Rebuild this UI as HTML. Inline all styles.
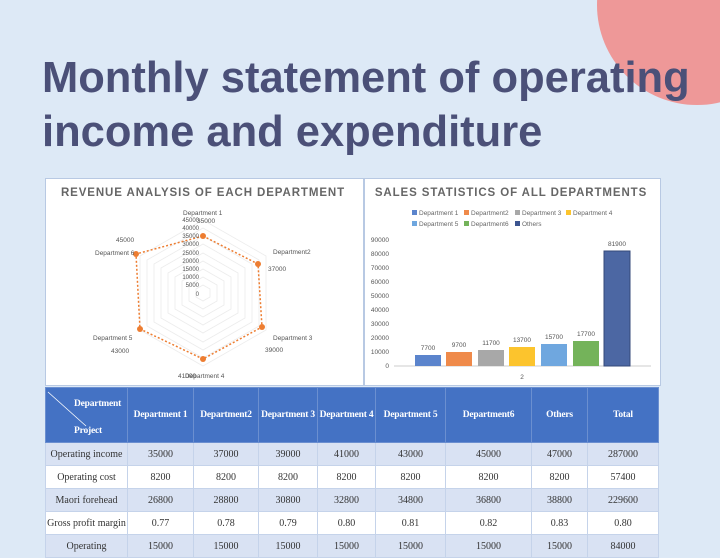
<!DOCTYPE html>
<html><head><meta charset="utf-8"><style>
body{margin:0;width:720px;height:540px;overflow:hidden;background:#dde9f6;font-family:"Liberation Sans",sans-serif;position:relative}
.circ{position:absolute;left:597px;top:-95px;width:200px;height:200px;border-radius:50%;background:#ee9898}
h1{position:absolute;left:42px;top:51px;margin:0;font-size:43.5px;line-height:54px;color:#4b5078;font-weight:bold;white-space:nowrap}
.panel{position:absolute;background:#fff;border:1px solid #b8c9e3}
table{position:absolute;left:45px;top:387px;width:613px;border-collapse:collapse;font-family:"Liberation Serif",serif;font-size:10px;color:#333;table-layout:fixed}
td{text-align:center;border:1px solid #c5d3ea;height:22px;padding:0;white-space:nowrap;overflow:hidden}
tr.h td{background:#4472c4;color:#fff;font-weight:bold;height:54px;border-color:#6b8fd0;font-size:9.5px;letter-spacing:-0.2px}
tr.a td{background:#d9e2f3}
tr.b td{background:#fff}
</style></head><body>
<div class="circ"></div>
<h1>Monthly statement of operating<br>income and expenditure</h1>
<div class="panel" style="left:45px;top:178px;width:317px;height:206px"></div>
<div class="panel" style="left:364px;top:178px;width:295px;height:206px"></div>
<svg width="720" height="540" style="position:absolute;left:0;top:0" font-family="Liberation Sans, sans-serif">
<text x="203" y="196" text-anchor="middle" font-size="11.5" font-weight="bold" fill="#666" letter-spacing="0.9">REVENUE ANALYSIS OF EACH DEPARTMENT</text>
<g fill="none" stroke="#ececec" stroke-width="0.8">
<polygon points="203,285 210,289 210,297 203,301 196,297 196,289"/>
<polygon points="203,277 217,285 217,301 203,309 189,301 189,285"/>
<polygon points="203,269 224,281 224,305 203,317 182,305 182,281"/>
<polygon points="203,261 231,277 231,309 203,325 175,309 175,277"/>
<polygon points="203,253 238,273 238,313 203,333 168,313 168,273"/>
<polygon points="203,244 245,268 245,318 203,342 161,318 161,268"/>
<polygon points="203,236 252,264 252,322 203,350 154,322 154,264"/>
<polygon points="203,228 259,260 259,326 203,358 147,326 147,260"/>
<polygon points="203,220 266,256 266,330 203,366 140,330 140,256"/>
</g>
<polygon points="203,236 258,264 262,327 203,359 140,329 136,254" fill="none" stroke="#ed7d31" stroke-width="1.5" stroke-dasharray="2,2"/>
<g fill="#ed7d31"><circle cx="203" cy="236" r="3"/><circle cx="258" cy="264" r="3"/><circle cx="262" cy="327" r="3"/><circle cx="203" cy="359" r="3"/><circle cx="140" cy="329" r="3"/><circle cx="136" cy="254" r="3"/></g>
<g font-size="6" fill="#555" text-anchor="end">
<text x="199" y="222">45000</text><text x="199" y="230">40000</text><text x="199" y="238">35000</text><text x="199" y="246">30000</text><text x="199" y="255">25000</text><text x="199" y="263">20000</text><text x="199" y="271">15000</text><text x="199" y="279">10000</text><text x="199" y="287">5000</text><text x="199" y="296">0</text></g>
<g font-size="6.5" fill="#555">
<text x="183" y="215">Department 1</text><text x="197" y="223">35000</text>
<text x="273" y="254">Department2</text><text x="268" y="271">37000</text>
<text x="273" y="340">Department 3</text><text x="265" y="352">39000</text>
<text x="178" y="378">41000</text><text x="185" y="378">Department 4</text>
<text x="93" y="340">Department 5</text><text x="111" y="353">43000</text>
<text x="95" y="255">Department 6</text><text x="116" y="242">45000</text></g>
<text x="511" y="196" text-anchor="middle" font-size="11.5" font-weight="bold" fill="#666" letter-spacing="0.9">SALES STATISTICS OF ALL DEPARTMENTS</text>
<g font-size="6.5" fill="#666">
<rect x="412" y="210" width="5" height="5" fill="#5b84cc"/><text x="419" y="215">Department 1</text>
<rect x="464" y="210" width="5" height="5" fill="#ef8a4a"/><text x="471" y="215">Department2</text>
<rect x="515" y="210" width="5" height="5" fill="#a8a8a8"/><text x="522" y="215">Department 3</text>
<rect x="566" y="210" width="5" height="5" fill="#fcc42d"/><text x="573" y="215">Department 4</text>
<rect x="412" y="221" width="5" height="5" fill="#6fa7df"/><text x="419" y="226">Department 5</text>
<rect x="464" y="221" width="5" height="5" fill="#74b35a"/><text x="471" y="226">Department6</text>
<rect x="515" y="221" width="5" height="5" fill="#3c5590"/><text x="522" y="226">Others</text></g>
<g font-size="6.5" fill="#555" text-anchor="end">
<text x="389" y="242">90000</text><text x="389" y="256">80000</text><text x="389" y="270">70000</text><text x="389" y="284">60000</text><text x="389" y="298">50000</text><text x="389" y="312">40000</text><text x="389" y="326">30000</text><text x="389" y="340">20000</text><text x="389" y="354">10000</text><text x="389" y="368">0</text></g>
<line x1="394" y1="366" x2="651" y2="366" stroke="#ccc"/>
<rect x="415" y="355" width="26" height="11" fill="#5b84cc"/>
<rect x="446" y="352" width="26" height="14" fill="#ef8a4a"/>
<rect x="478" y="350" width="26" height="16" fill="#a8a8a8"/>
<rect x="509" y="347" width="26" height="19" fill="#fcc42d"/>
<rect x="541" y="344" width="26" height="22" fill="#6fa7df"/>
<rect x="573" y="341" width="26" height="25" fill="#74b35a"/>
<rect x="604" y="251" width="26" height="115" fill="#4c67a3" stroke="#34487a"/>
<g font-size="6.5" fill="#555" text-anchor="middle">
<text x="428" y="350">7700</text><text x="459" y="347">9700</text><text x="491" y="345">11700</text><text x="522" y="342">13700</text><text x="554" y="339">15700</text><text x="586" y="336">17700</text><text x="617" y="246">81900</text><text x="522" y="379">2</text></g>
</svg>
<table>
<colgroup><col style="width:82px"><col style="width:66px"><col style="width:65px"><col style="width:59px"><col style="width:58px"><col style="width:70px"><col style="width:86px"><col style="width:56px"><col style="width:71px"></colgroup>
<tr class="h"><td style="position:relative;text-align:left"><svg width="82" height="54" style="position:absolute;left:0;top:0"><line x1="2" y1="4" x2="40" y2="38" stroke="#fff" stroke-width="0.8"/></svg><div style="position:absolute;left:28px;top:11px">Department</div><div style="position:absolute;left:28px;top:38px">Project</div></td><td>Department 1</td><td>Department2</td><td>Department 3</td><td>Department 4</td><td>Department 5</td><td>Department6</td><td>Others</td><td>Total</td></tr>
<tr class="a"><td>Operating income</td><td>35000</td><td>37000</td><td>39000</td><td>41000</td><td>43000</td><td>45000</td><td>47000</td><td>287000</td></tr>
<tr class="b"><td>Operating cost</td><td>8200</td><td>8200</td><td>8200</td><td>8200</td><td>8200</td><td>8200</td><td>8200</td><td>57400</td></tr>
<tr class="a"><td>Maori forehead</td><td>26800</td><td>28800</td><td>30800</td><td>32800</td><td>34800</td><td>36800</td><td>38800</td><td>229600</td></tr>
<tr class="b"><td>Gross profit margin</td><td>0.77</td><td>0.78</td><td>0.79</td><td>0.80</td><td>0.81</td><td>0.82</td><td>0.83</td><td>0.80</td></tr>
<tr class="a"><td>Operating</td><td>15000</td><td>15000</td><td>15000</td><td>15000</td><td>15000</td><td>15000</td><td>15000</td><td>84000</td></tr>
</table>
</body></html>
